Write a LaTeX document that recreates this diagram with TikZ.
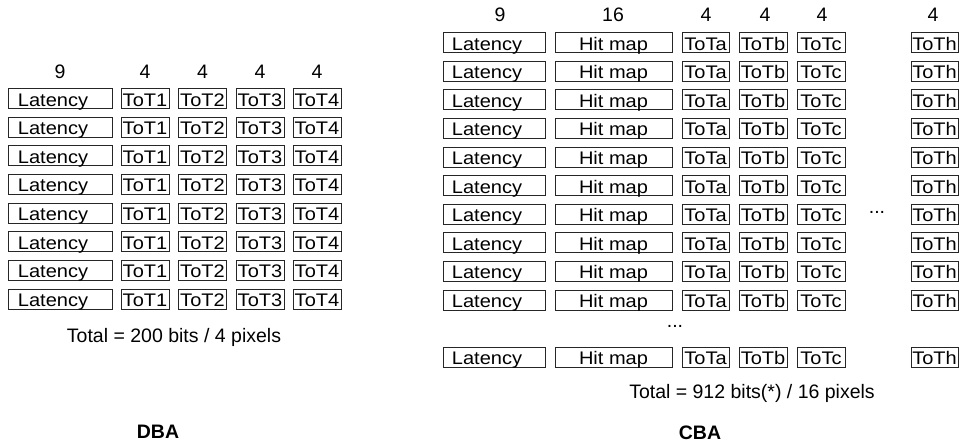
\documentclass[tikz,border=0pt]{standalone}
\usepackage{fontspec}
\setmainfont{Liberation Sans}
\newfontfamily\cellfont[FakeStretch=1.1]{Liberation Sans}
\begin{document}
\begin{tikzpicture}[x=1pt,y=-1pt,
  cell/.style={draw=black!85, line width=0.8pt, minimum height=20pt, inner sep=0pt,
    text height=16pt, text depth=1pt, font=\cellfont\fontsize{18.2}{19}\selectfont},
  lbl/.style={font=\fontsize{19.5}{20}\selectfont},
  ttl/.style={font=\fontsize{19.5}{20}\selectfont\bfseries}]
\useasboundingbox (0,0) rectangle (962,445);
% DBA
\node[lbl] (dh0) at (60,72) {9};
\node[lbl] (dh1) at (145,72) {4};
\node[lbl] (dh2) at (202.5,72) {4};
\node[lbl] (dh3) at (260,72) {4};
\node[lbl] (dh4) at (317,72) {4};
\foreach \i in {1,...,8} {
  \pgfmathsetmacro\yy{98.5+(\i-1)*28.65}
  \node[cell, minimum width=104pt] (dlat\i) at (60,\yy) {Latency\hspace*{14pt}};
  \node[cell, minimum width=48pt] (dta\i) at (145,\yy) {ToT1};
  \node[cell, minimum width=48pt] (dtb\i) at (202.5,\yy) {ToT2};
  \node[cell, minimum width=48pt] (dtc\i) at (260,\yy) {ToT3};
  \node[cell, minimum width=48pt] (dtd\i) at (317,\yy) {ToT4};
}
\node[lbl] (dtot) at (174,337) {Total = 200 bits / 4 pixels};
\node[ttl] (dba) at (158,432) {DBA};
% CBA
\node[lbl] (ch0) at (500,15) {9};
\node[lbl] (ch1) at (613,15) {16};
\node[lbl] (ch2) at (706,15) {4};
\node[lbl] (ch3) at (765,15) {4};
\node[lbl] (ch4) at (822,15) {4};
\node[lbl] (ch5) at (933,15) {4};
\foreach \i in {1,...,10,12} {
  \pgfmathsetmacro\yy{42.5+(\i-1)*28.62}
  \node[cell, minimum width=102pt] (clat\i) at (494,\yy) {Latency\hspace*{14pt}};
  \node[cell, minimum width=117pt] (chit\i) at (613.5,\yy) {Hit map};
  \node[cell, minimum width=47pt] (cta\i) at (705.5,\yy) {ToTa};
  \node[cell, minimum width=48pt] (ctb\i) at (763,\yy) {ToTb};
  \node[cell, minimum width=48pt] (ctc\i) at (821,\yy) {ToTc};
  \node[cell, minimum width=47pt] (cth\i) at (934.5,\yy) {ToTh};
}
\node[lbl] (cdots1) at (877,212) {...};
\node[lbl] (cdots2) at (675,326) {...};
\node[lbl] (ctot) at (752,393) {Total = 912 bits(*) / 16 pixels};
\node[ttl] (cba) at (700,433) {CBA};
\end{tikzpicture}
\end{document}
